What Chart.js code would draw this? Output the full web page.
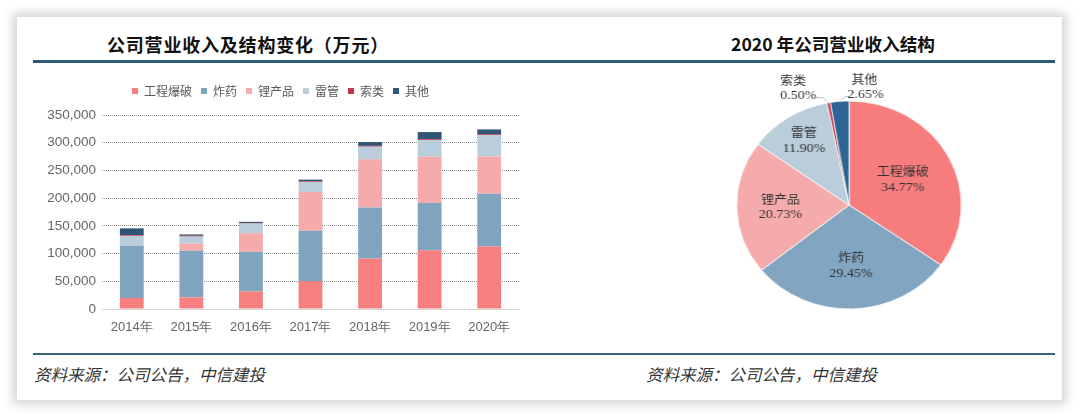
<!DOCTYPE html>
<html><head><meta charset="utf-8">
<script src="https://cdn.jsdelivr.net/npm/chart.js@4.4.0/dist/chart.umd.min.js"></script>
<style>
html,body{margin:0;padding:0;background:#fff;width:1080px;height:419px;overflow:hidden;font-family:"Noto Sans CJK SC",sans-serif;}
#panel{position:absolute;left:17px;top:17px;width:1045px;height:383px;background:#fff;box-shadow:0 0 10px 4px rgba(0,0,0,0.18);}
.title{position:absolute;top:31px;font-weight:bold;font-size:18px;color:#111;white-space:nowrap;transform:translateX(-50%);}
.rule{position:absolute;left:33px;width:1022px;height:3px;background:#2b5b78;}
.src{position:absolute;top:362px;font-style:italic;font-size:16.5px;color:#333;white-space:nowrap;}
canvas{position:absolute;}
</style></head>
<body>
<div id="panel"></div>
<div class="title" style="left:248px;letter-spacing:0.8px">公司营业收入及结构变化（万元）</div>
<div class="title" style="left:833px;font-size:17.6px">2020 年公司营业收入结构</div>
<div class="rule" style="top:60px"></div>
<div class="rule" style="top:353px;height:2px;background:#3a6479"></div>
<div class="src" style="left:34px">资料来源：公司公告，中信建投</div>
<div class="src" style="left:646px">资料来源：公司公告，中信建投</div>
<canvas id="bar" style="left:42px;top:76px;width:487px;height:259px" width="487" height="259"></canvas>
<canvas id="pie" style="left:699px;top:60px;width:300px;height:290px;transform:scaleX(1.08);transform-origin:150px 145px" width="300" height="290"></canvas>
<script>
const years = ['2014年','2015年','2016年','2017年','2018年','2019年','2020年'];
const seriesNames = ['工程爆破','炸药','锂产品','雷管','索类','其他'];
const blasting   = [20000, 21000, 31800, 50400, 91200, 106200, 112650];
const explosives = [94000, 84000, 71400, 90600, 91800, 85200, 95400];
const lithium    = [0, 13000, 33600, 70200, 87000, 83400, 67200];
const detonator  = [18000, 12600, 17400, 18000, 22800, 30000, 38500];
const rope       = [1500, 1500, 1000, 1000, 1500, 1500, 1600];
const others     = [12000, 2500, 2000, 3200, 6900, 12900, 8600];
const yTicksMax = 350000, yTickStep = 50000;
const pieLabels = ['工程爆破','炸药','锂产品','雷管','索类','其他'];
const pieShares = [34.77, 29.45, 20.73, 11.90, 0.50, 2.65];

const barColors = ['#f67f7f','#7fa4bf','#f5abab','#b9cddb','#c8334a','#2f5676'];
const pieColors = ['#f77d7d','#82a6c1','#f5abab','#b9cddb','#c8334a','#2c6494'];
const barSeries = [blasting, explosives, lithium, detonator, rope, others];

const legendGap = {
  id: 'legendGap',
  beforeInit(chart) {
    const lg = chart.legend;
    if (!lg) return;
    const fit = lg.fit;
    lg.fit = function() { fit.call(this); this.height += 8; };
  }
};

new Chart(document.getElementById('bar'), {
  type: 'bar',
  data: {
    labels: years,
    datasets: barSeries.map((d,i)=>({label: seriesNames[i], data: d, backgroundColor: barColors[i],
      barPercentage: 0.4, categoryPercentage: 1.0, borderWidth: 0}))
  },
  options: {
    responsive: false, animation: false,
    layout: {padding: {top: 0, right: 10, bottom: 0, left: 0}},
    plugins: {
      tooltip: {enabled: false},
      legend: {position: 'top', align: 'center',
        labels: {boxWidth: 6, boxHeight: 6, padding: 9, color: '#595959',
          font: {family: '"Noto Sans CJK SC"', size: 12}}}
    },
    scales: {
      x: {stacked: true,
        grid: {display: false},
        border: {display: true, color: '#d9d9d9'},
        ticks: {color: '#666', font: {family: '"Liberation Sans", Arial', size: 13}, padding: 3},
        afterFit: s => { s.height = 26; }
      },
      y: {stacked: true, min: 0, max: yTicksMax,
        ticks: {stepSize: yTickStep, color: '#666', padding: 6,
          font: {family: '"Liberation Sans", Arial', size: 13.5},
          callback: v => v.toLocaleString('en-US')},
        grid: {color: ctx => ctx.tick.value === 0 ? 'rgba(0,0,0,0)' : '#8c8c8c', drawTicks: false, lineWidth: 1},
        border: {display: false, dash: [1,1]},
        afterFit: s => { s.width = 60; }
      }
    }
  },
  plugins: [legendGap]
});

const pieLabelPlugin = {
  id: 'pieLabels',
  afterDatasetsDraw(chart) {
    const ctx = chart.ctx;
    const meta = chart.getDatasetMeta(0);
    ctx.save();
    ctx.textAlign = 'center';
    ctx.textBaseline = 'middle';
    const nameFont = '12px "Noto Sans CJK SC"';
    const numFont = '13px "Liberation Serif", "DejaVu Serif"';
    meta.data.forEach((arc, i) => {
      const p = arc.getProps(['x','y','startAngle','endAngle','outerRadius']);
      const mid = (p.startAngle + p.endAngle) / 2;
      const name = pieLabels[i];
      const pct = pieShares[i].toFixed(2) + '%';
      ctx.fillStyle = '#333';
      if (pieShares[i] > 5) {
        const f = [0.54, 0.58, 0.61, 0.74][i];
        const lx = p.x + Math.cos(mid) * p.outerRadius * f;
        const ly = p.y + Math.sin(mid) * p.outerRadius * f;
        ctx.font = nameFont;
        ctx.fillText(name, lx, ly - 7.5);
        ctx.font = numFont;
        ctx.fillText(pct, lx, ly + 8);
      } else {
        const ex = p.x + Math.cos(mid) * p.outerRadius;
        const ey = p.y + Math.sin(mid) * p.outerRadius;
        const left = i === 4;
        const lx = ex + (left ? -28 : 24);
        const ly = ey - 7;
        ctx.strokeStyle = '#a8a8a8';
        ctx.lineWidth = 0.8;
        ctx.beginPath();
        ctx.moveTo(ex + (left ? -1 : 1), ey - 1);
        ctx.lineTo(ex + (left ? -5 : 5), ey - 5);
        ctx.lineTo(lx + (left ? 16 : -16), ey - 5);
        ctx.stroke();
        ctx.font = nameFont;
        ctx.fillText(name, lx - (left ? 5 : 1), ly - 15);
        ctx.font = numFont;
        ctx.fillText(pct, lx, ly);
      }
    });
    ctx.restore();
  }
};

new Chart(document.getElementById('pie'), {
  type: 'pie',
  data: {labels: pieLabels, datasets: [{data: pieShares, backgroundColor: pieColors, borderColor: '#ffffff', borderWidth: 0.8, radius: 104}]},
  options: {responsive: false, animation: false,
    plugins: {legend: {display: false}, tooltip: {enabled: false}}},
  plugins: [pieLabelPlugin]
});
</script>
</body></html>
